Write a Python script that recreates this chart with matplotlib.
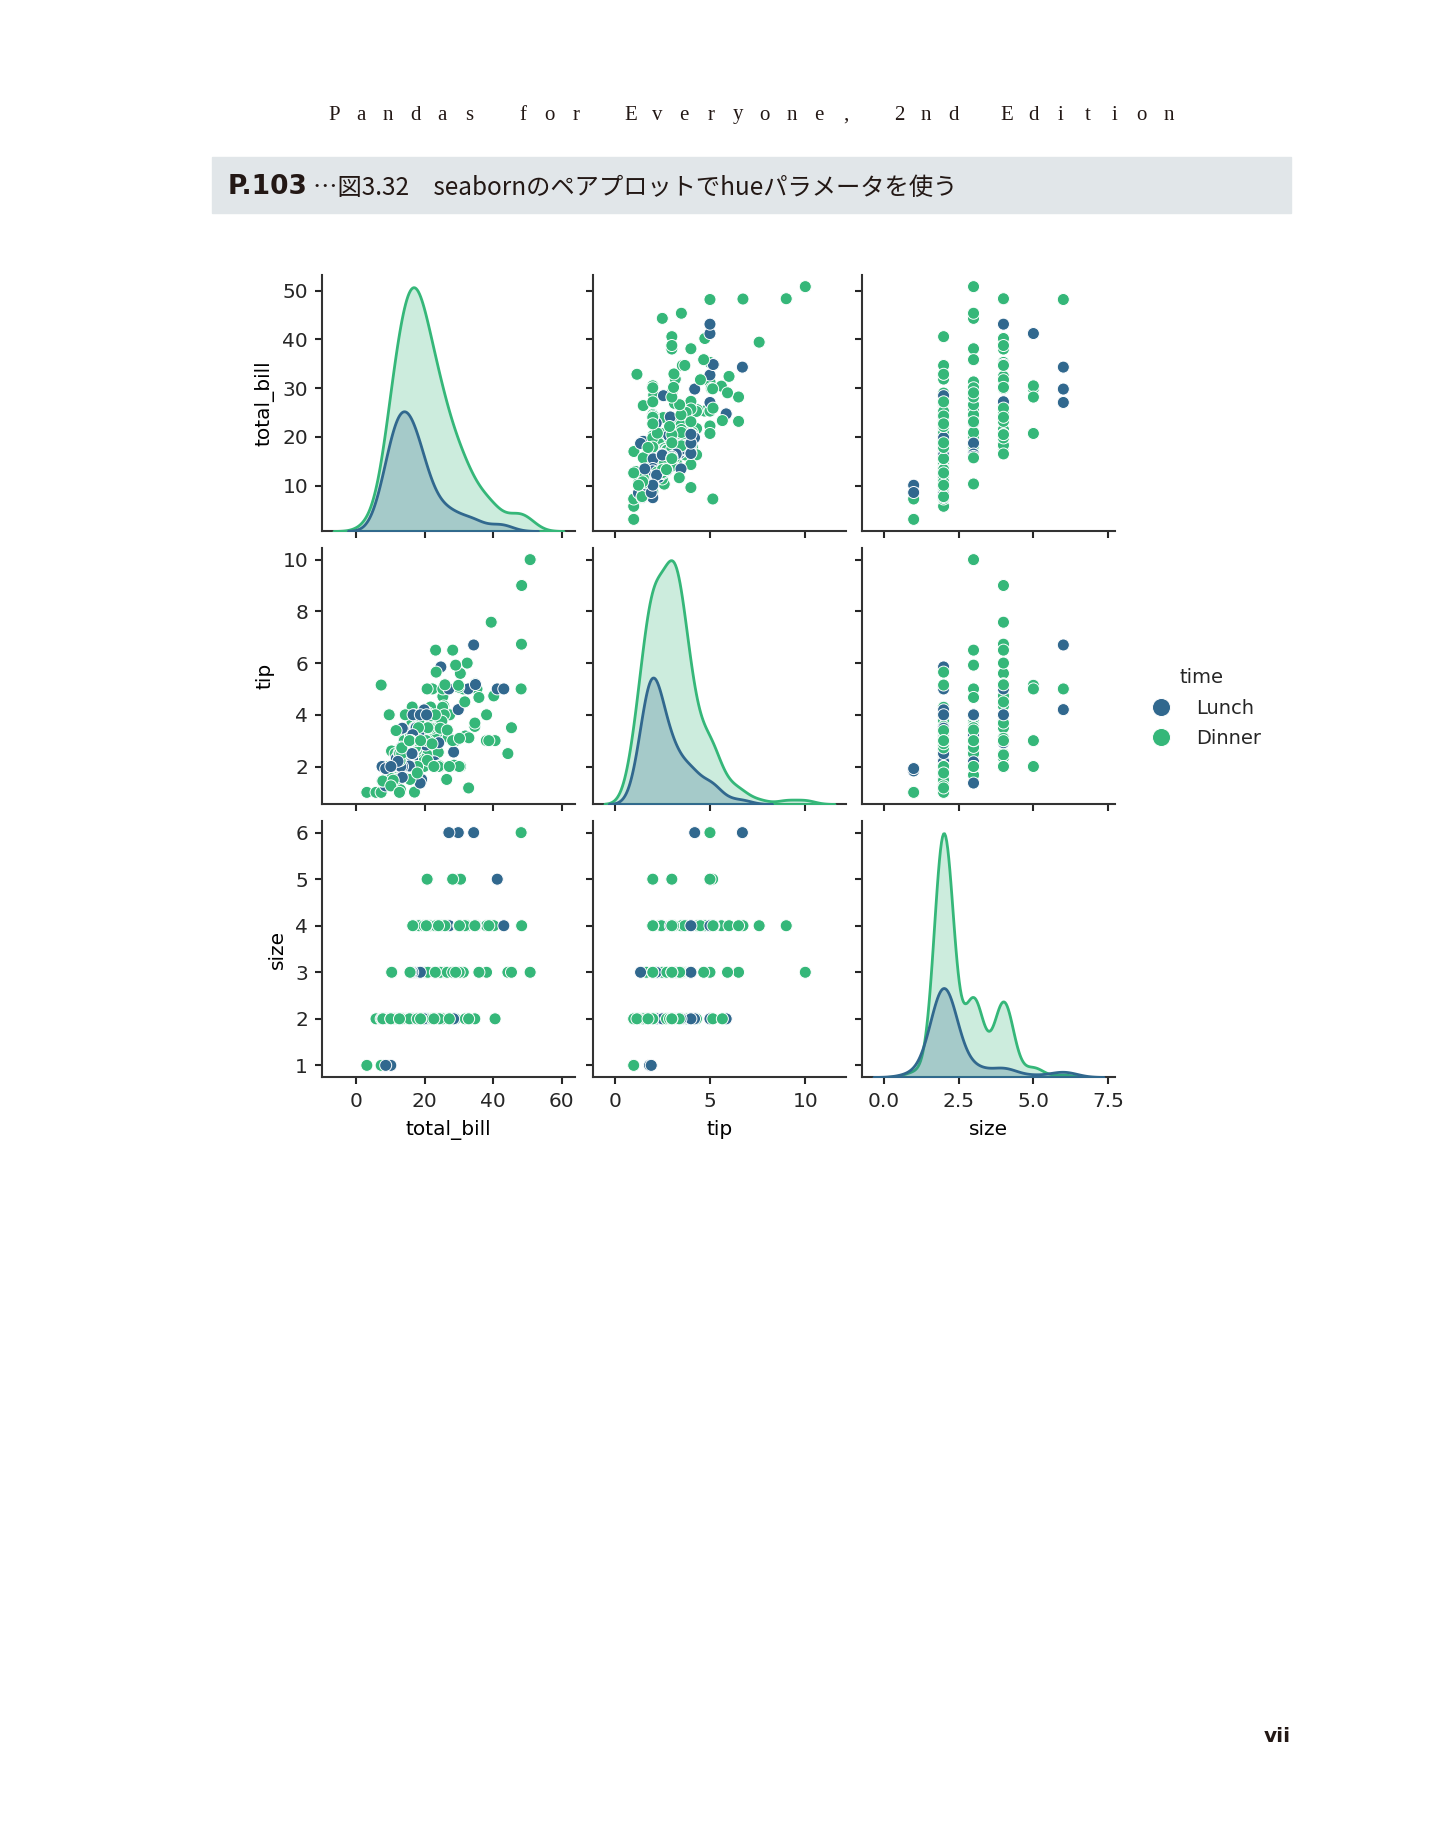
import numpy as np
import pandas as pd
import matplotlib
matplotlib.use("Agg")
import matplotlib.pyplot as plt
import seaborn as sns
from matplotlib.patches import Rectangle

# tips data, row order kept (total_bill, tip, size, time)
total_bill = [
    16.99, 10.34, 21.01, 23.68, 24.59, 25.29, 8.77, 26.88, 15.04, 14.78,
    10.27, 35.26, 15.42, 18.43, 14.83, 21.58, 10.33, 16.29, 16.97, 20.65,
    17.92, 20.29, 15.77, 39.42, 19.82, 17.81, 13.37, 12.69, 21.70, 19.65,
    9.55, 18.35, 15.06, 20.69, 17.78, 24.06, 16.31, 16.93, 18.69, 31.27,
    16.04, 17.46, 13.94, 9.68, 30.40, 18.29, 22.23, 32.40, 28.55, 18.04,
    12.54, 10.29, 34.81, 9.94, 25.56, 19.49, 38.01, 26.41, 11.24, 48.27,
    20.29, 13.81, 11.02, 18.29, 17.59, 20.08, 16.45, 3.07, 20.23, 15.01,
    12.02, 17.07, 26.86, 25.28, 14.73, 10.51, 17.92, 27.20, 22.76, 17.29,
    19.44, 16.66, 10.07, 32.68, 15.98, 34.83, 13.03, 18.28, 24.71, 21.16,
    28.97, 22.49, 5.75, 16.32, 22.75, 40.17, 27.28, 12.03, 21.01, 12.46,
    11.35, 15.38, 44.30, 22.42, 20.92, 15.36, 20.49, 25.21, 18.24, 14.31,
    14.00, 7.25, 38.07, 23.95, 25.71, 17.31, 29.93, 10.65, 12.43, 24.08,
    11.69, 13.42, 14.26, 15.95, 12.48, 29.80, 8.52, 14.52, 11.38, 22.82,
    19.08, 20.27, 11.17, 12.26, 18.26, 8.51, 10.33, 14.15, 16.00, 13.16,
    17.47, 34.30, 41.19, 27.05, 16.43, 8.35, 18.64, 11.87, 9.78, 7.51,
    14.07, 13.13, 17.26, 24.55, 19.77, 29.85, 48.17, 25.00, 13.39, 16.49,
    21.50, 12.66, 16.21, 13.81, 17.51, 24.52, 20.76, 31.71, 10.59, 10.63,
    50.81, 15.81, 7.25, 31.85, 16.82, 32.90, 17.89, 14.48, 9.60, 34.63,
    34.65, 23.33, 45.35, 23.17, 40.55, 20.69, 20.90, 30.46, 18.15, 23.10,
    15.69, 19.81, 28.44, 15.48, 16.58, 7.56, 10.34, 43.11, 13.00, 13.51,
    18.71, 12.74, 13.00, 16.40, 20.53, 16.47, 26.59, 38.73, 24.27, 12.76,
    30.06, 25.89, 48.33, 13.27, 28.17, 12.90, 28.15, 11.59, 7.74, 30.14,
    12.16, 13.42, 8.58, 15.98, 13.42, 16.27, 10.09, 20.45, 13.28, 22.12,
    24.01, 15.69, 11.61, 10.77, 15.53, 10.07, 12.60, 32.83, 35.83, 29.03,
    27.18, 22.67, 17.82, 18.78,
]

tip = [
    1.01, 1.66, 3.50, 3.31, 3.61, 4.71, 2.00, 3.12, 1.96, 3.23,
    1.71, 5.00, 1.57, 3.00, 3.02, 3.92, 1.67, 3.71, 3.50, 3.35,
    4.08, 2.75, 2.23, 7.58, 3.18, 2.34, 2.00, 2.00, 4.30, 3.00,
    1.45, 2.50, 3.00, 2.45, 3.27, 3.60, 2.00, 3.07, 2.31, 5.00,
    2.24, 2.54, 3.06, 1.32, 5.60, 3.00, 5.00, 6.00, 2.05, 3.00,
    2.50, 2.60, 5.20, 1.56, 4.34, 3.51, 3.00, 1.50, 1.76, 6.73,
    3.21, 2.00, 1.98, 3.76, 2.64, 3.15, 2.47, 1.00, 2.01, 2.09,
    1.97, 3.00, 3.14, 5.00, 2.20, 1.25, 3.08, 4.00, 3.00, 2.71,
    3.00, 3.40, 1.83, 5.00, 2.03, 5.17, 2.00, 4.00, 5.85, 3.00,
    3.00, 3.50, 1.00, 4.30, 3.25, 4.73, 4.00, 1.50, 3.00, 1.50,
    2.50, 3.00, 2.50, 3.48, 4.08, 1.64, 4.06, 4.29, 3.76, 4.00,
    3.00, 1.00, 4.00, 2.55, 4.00, 3.50, 5.07, 1.50, 1.80, 2.92,
    2.31, 1.68, 2.50, 2.00, 2.52, 4.20, 1.48, 2.00, 2.00, 2.18,
    1.50, 2.83, 1.50, 2.00, 3.25, 1.25, 2.00, 2.00, 2.00, 2.75,
    3.50, 6.70, 5.00, 5.00, 2.30, 1.50, 1.36, 1.63, 1.73, 2.00,
    2.50, 2.00, 2.74, 2.00, 2.00, 5.14, 5.00, 3.75, 2.61, 2.00,
    3.50, 2.50, 2.00, 2.00, 3.00, 3.48, 2.24, 4.50, 1.61, 2.00,
    10.00, 3.16, 5.15, 3.18, 4.00, 3.11, 2.00, 2.00, 4.00, 3.55,
    3.68, 5.65, 3.50, 6.50, 3.00, 5.00, 3.50, 2.00, 3.50, 4.00,
    1.50, 4.19, 2.56, 2.02, 4.00, 1.44, 2.00, 5.00, 2.00, 2.00,
    4.00, 2.01, 2.00, 2.50, 4.00, 3.23, 3.41, 3.00, 2.03, 2.23,
    2.00, 5.16, 9.00, 2.50, 6.50, 1.10, 3.00, 1.50, 1.44, 3.09,
    2.20, 3.48, 1.92, 3.00, 1.58, 2.50, 2.00, 3.00, 2.72, 2.88,
    2.00, 3.00, 3.39, 1.47, 3.00, 1.25, 1.00, 1.17, 4.67, 5.92,
    2.00, 2.00, 1.75, 3.00,
]

size = [
    2, 3, 3, 2, 4, 4, 2, 4, 2, 2,
    2, 4, 2, 4, 2, 2, 3, 3, 3, 3,
    2, 2, 2, 4, 2, 4, 2, 2, 2, 2,
    2, 4, 2, 4, 2, 3, 3, 3, 3, 3,
    3, 2, 2, 2, 4, 2, 2, 4, 3, 2,
    2, 2, 4, 2, 4, 2, 4, 2, 2, 4,
    2, 2, 2, 4, 3, 3, 2, 1, 2, 2,
    2, 3, 2, 2, 2, 2, 2, 4, 2, 2,
    2, 2, 1, 2, 2, 4, 2, 2, 2, 2,
    2, 2, 2, 2, 2, 4, 2, 2, 2, 2,
    2, 2, 3, 2, 2, 2, 2, 2, 2, 2,
    2, 1, 3, 2, 3, 2, 4, 2, 2, 4,
    2, 2, 2, 2, 2, 6, 2, 2, 2, 3,
    2, 2, 2, 2, 2, 2, 2, 2, 2, 2,
    2, 6, 5, 6, 2, 2, 3, 2, 2, 2,
    2, 2, 3, 4, 4, 5, 6, 4, 2, 4,
    4, 2, 3, 2, 2, 3, 2, 4, 2, 2,
    3, 2, 2, 2, 2, 2, 2, 2, 2, 2,
    4, 2, 3, 4, 2, 5, 3, 5, 3, 3,
    2, 2, 2, 2, 2, 2, 2, 4, 2, 2,
    3, 2, 2, 2, 4, 3, 3, 4, 2, 2,
    3, 4, 4, 2, 3, 2, 5, 2, 2, 4,
    2, 2, 1, 3, 2, 2, 2, 4, 2, 2,
    4, 3, 2, 2, 2, 2, 2, 2, 3, 3,
    2, 2, 2, 2,
]

# L = Lunch, D = Dinner
time_code = (
    "DDDDDDDDDD" "DDDDDDDDDD" "DDDDDDDDDD" "DDDDDDDDDD" "DDDDDDDDDD"
    "DDDDDDDDDD" "DDDDDDDDDD" "DDDDDDDLLL" "LLLLLLLLLL" "DDDDDDDDDD"
    "DDDDDDDDDD" "DDDDDDDLLL" "LLLLLLLLLL" "LLLLLLLLLL" "LLLLLLLLLL"
    "DDDDDDDDDD" "DDDDDDDDDD" "DDDDDDDDDD" "DDDDDDDDDD" "DLLLLLLLLL"
    "LLLLLLDDDD" "DDDDDDDDDD" "LLLLLLLDDD" "DDDDDDDDDD" "DDDD"
)
time_names = {"L": "Lunch", "D": "Dinner"}
hue_levels = ["Lunch", "Dinner"]

header = "Pandas for Everyone, 2nd Edition"
banner_num = "P.103"
banner_text = "…図3.32　seabornのペアプロットでhueパラメータを使う"
page_no = "vii"

df = pd.DataFrame({
    "total_bill": total_bill,
    "tip": tip,
    "size": size,
    "time": [time_names[c] for c in time_code],
})

plt.rcParams.update({
    "font.family": ["DejaVu Sans"],
    "xtick.labelsize": 14.5,
    "ytick.labelsize": 14.5,
    "axes.labelsize": 14.5,
    "axes.labelpad": 6,
    "legend.fontsize": 14,
    "legend.title_fontsize": 14,
    "axes.linewidth": 1.5,
    "axes.edgecolor": "#333333",
    "xtick.major.width": 1.5,
    "ytick.major.width": 1.5,
    "xtick.major.size": 5,
    "ytick.major.size": 5,
    "xtick.major.pad": 6,
    "ytick.major.pad": 5,
    "text.color": "#262626",
    "xtick.color": "#262626",
    "ytick.color": "#262626",
})

g = sns.pairplot(df, hue="time", hue_order=hue_levels, palette="viridis",
                 plot_kws={"s": 75}, diag_kws={"linewidth": 2})
fig = g.figure
fig.set_size_inches(14.33, 18.27)
fig.set_dpi(100)

W, H = 1433, 1827
col_left = [322, 593, 862]
row_top = [275, 548, 821]
aw, ah = 253, 256
for i in range(3):
    for j in range(3):
        g.axes[i, j].set_position([col_left[j] / W, 1 - (row_top[i] + ah) / H,
                                   aw / W, ah / H])

sns.move_legend(g, "center left", bbox_to_anchor=(1124 / W, 1 - 708 / H),
                frameon=False, markerscale=1.5, labelspacing=0.6)

# page header, letter-spaced
x = 334.4
for ch in header:
    if ch != " ":
        fig.text(x / W, 1 - 115 / H, ch, ha="center", va="center",
                 fontsize=15, family="Liberation Serif", color="#231815")
    x += 26.9

fig.add_artist(Rectangle((212 / W, 1 - 213 / H), (1291 - 212) / W, 56 / H,
                         transform=fig.transFigure, color="#e1e6e9", zorder=-1))
fig.text(228 / W, 1 - 187 / H, banner_num, ha="left", va="center",
         fontsize=19, fontweight="bold", color="#231815")
fig.text(313 / W, 1 - 188 / H, banner_text, ha="left", va="center",
         fontsize=17.5, family=["Noto Sans CJK JP", "DejaVu Sans"],
         color="#231815")
fig.text(1277 / W, 1 - 1737 / H, page_no, ha="center", va="center",
         fontsize=14.5, fontweight="bold", color="#231815")

fig.savefig("out.png", dpi=100)
